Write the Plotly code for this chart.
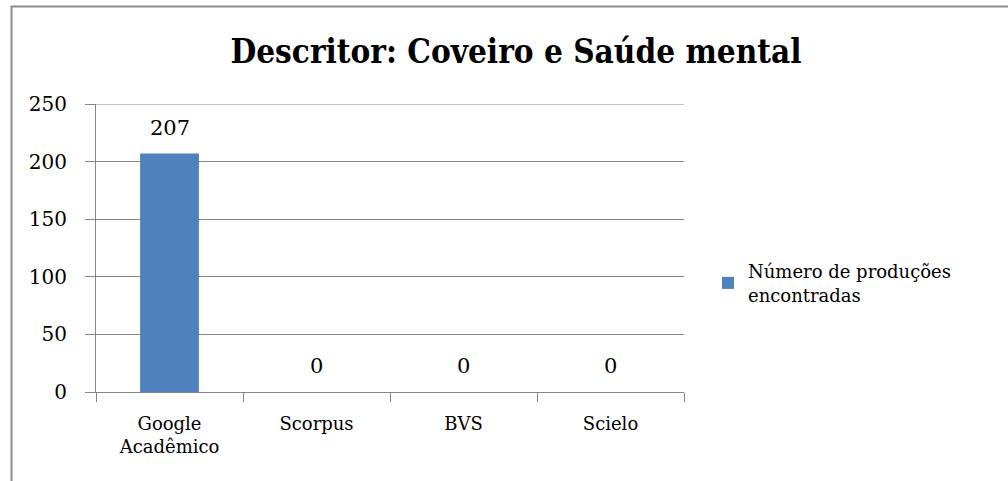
import plotly.graph_objects as go

categories = ["Google<br>Acadêmico", "Scorpus", "BVS", "Scielo"]
values = [207, 0, 0, 0]
series_name = "Número de produções<br>encontradas"
title_text = "Descritor: Coveiro e Saúde mental"
y_ticks = [0, 50, 100, 150, 200, 250]

L, R, T, B = 96, 684, 104, 392
W, H = 1008, 481
pw, ph = R - L, B - T

fig = go.Figure()
fig.add_trace(go.Bar(
    x=categories, y=values, name=series_name,
    marker=dict(color="#4F81BD", line=dict(width=0)),
    showlegend=True,
))

# data labels, placed from the values through the axes
for c, v in zip(categories, values):
    fig.add_annotation(x=c, y=v, xref="x", yref="y", text=str(v), showarrow=False,
                       yanchor="middle", yshift=26,
                       font=dict(family="DejaVu Serif", size=21, color="#000000"))

shapes = [dict(type="rect", xref="paper", yref="paper",
               x0=(11.5 - L) / pw, x1=(W + 20 - L) / pw,
               y0=(B - H - 20) / ph, y1=(B - 6.5) / ph,
               line=dict(color="#8c8c8c", width=2), fillcolor="rgba(0,0,0,0)",
               layer="below")]
# top gridline (plotly omits the gridline lying on the plot edge)
shapes.append(dict(type="line", xref="paper", yref="y", x0=0, x1=1,
                   y0=max(y_ticks), y1=max(y_ticks),
                   line=dict(color="#868686", width=1), layer="below"))

fig.update_layout(
    width=W, height=H,
    margin=dict(l=L, r=W - R, t=T, b=H - B, autoexpand=False),
    paper_bgcolor="white", plot_bgcolor="white",
    bargap=0.6,
    title=dict(text="<b>" + title_text + "</b>", x=(516 - L) / pw, xref="paper",
               xanchor="center", y=1 - 51 / H, yanchor="middle",
               font=dict(family="DejaVu Serif Condensed", size=33, color="#000000")),
    font=dict(family="DejaVu Serif", size=18, color="#000000"),
    legend=dict(x=(708 - L) / pw, xanchor="left", y=(B - 283) / ph, yanchor="middle",
                font=dict(family="DejaVu Serif", size=18, color="#000000"),
                itemwidth=30, tracegroupgap=0, bgcolor="rgba(0,0,0,0)"),
    xaxis=dict(showline=True, linecolor="#868686", linewidth=1,
               ticks="outside", tickson="boundaries", ticklen=9, tickcolor="#868686",
               ticklabelstandoff=15,
               showgrid=False, tickfont=dict(family="DejaVu Serif", size=18)),
    yaxis=dict(range=[0, 250], tickvals=y_ticks, showline=True, linecolor="#868686",
               linewidth=1, ticks="outside", ticklen=10, tickcolor="#868686",
               ticklabelstandoff=14,
               showgrid=True, gridcolor="#868686", gridwidth=1, zeroline=False,
               tickfont=dict(family="DejaVu Serif", size=20)),
    shapes=shapes,
)

fig.write_html("out.html", config={"displayModeBar": False},
               post_script="document.body.style.margin='0';document.body.style.overflow='hidden';")
